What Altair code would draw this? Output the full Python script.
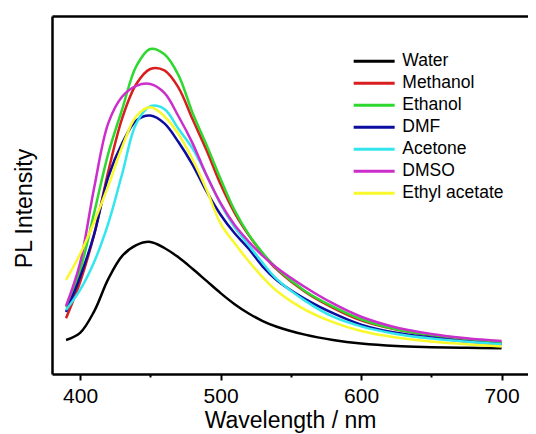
import altair as alt
import pandas as pd

wavelength = [390, 400, 410, 420, 430, 440, 450, 460, 470, 480, 490, 500,
              510, 520, 530, 540, 560, 580, 600, 625, 650, 675, 700]

water = [.095, .115, .175, .265, .33, .36, .369, .352, .326, .294, .26, .226,
         .195, .169, .148, .132, .11, .095, .085, .078, .075, .073, .072]
methanol = [.156, .257, .39, .565, .715, .81, .852, .848, .80, .712, .625, .53,
            .45, .388, .336, .292, .23, .185, .15, .124, .108, .097, .088]
ethanol = [.187, .29, .45, .615, .74, .86, .908, .893, .835, .73, .64, .545,
           .457, .39, .338, .295, .232, .188, .153, .125, .109, .098, .089]
dmf = [.173, .271, .39, .55, .645, .708, .722, .70, .648, .585, .51, .445,
       .393, .35, .30, .262, .21, .17, .138, .115, .102, .091, .083]
acetone = [.179, .235, .313, .42, .56, .70, .748, .74, .685, .63, .555, .475,
           .41, .36, .31, .265, .205, .16, .133, .112, .099, .09, .083]
dmso = [.19, .31, .52, .70, .775, .805, .81, .785, .72, .645, .555, .477,
        .416, .37, .33, .297, .243, .197, .16, .13, .112, .1, .092]
ethyl_acetate = [.263, .335, .425, .525, .635, .72, .745, .72, .67, .60, .515, .42,
                 .365, .315, .27, .232, .18, .145, .12, .102, .091, .083, .077]

solvents = ["Water", "Methanol", "Ethanol", "DMF", "Acetone", "DMSO", "Ethyl acetate"]
series = [water, methanol, ethanol, dmf, acetone, dmso, ethyl_acetate]
colors = ["#000000", "#d81e1e", "#2ed82e", "#0c0ca0", "#33e6ee", "#cc2ecc", "#f8f82a"]

rows = []
for name, vals in zip(solvents, series):
    for w, v in zip(wavelength, vals):
        rows.append({"wl": w, "intensity": v, "solvent": name})
df = pd.DataFrame(rows)

FONT = "Liberation Sans"
xscale = alt.Scale(domain=[380, 718.8], nice=False, zero=False)
yscale = alt.Scale(domain=[0, 1], nice=False, zero=False)

x_axis = alt.Axis(
    orient="bottom",
    values=[400, 450, 500, 550, 600, 650, 700],
    labelExpr="datum.value % 100 === 0 ? datum.label : ''",
    tickSize={"condition": {"test": "datum.value % 100 === 0", "value": 6}, "value": 3},
    tickWidth=2, tickColor="black",
    domainWidth=2.5, domainColor="black",
    labelFontSize=21, labelFont=FONT, labelColor="black", labelPadding=5,
    title="Wavelength / nm", titleFontSize=23, titleFont=FONT,
    titleFontWeight="normal", titleColor="black", titlePadding=3,
    grid=False,
)
y_axis = alt.Axis(
    orient="left", ticks=False, labels=False, grid=False,
    domainWidth=2.5, domainColor="black",
    title="PL Intensity", titleFontSize=23, titleFont=FONT,
    titleFontWeight="normal", titleColor="black",
    titleX=-16, titleY=192,
)
top_axis = alt.Axis(orient="top", ticks=False, labels=False, grid=False,
                    domainWidth=2.5, domainColor="black", title=None)

lines = alt.Chart(df).mark_line(strokeWidth=2.5, interpolate="catmull-rom").encode(
    x=alt.X("wl:Q", scale=xscale, axis=x_axis),
    y=alt.Y("intensity:Q", scale=yscale, axis=y_axis),
    color=alt.Color(
        "solvent:N",
        scale=alt.Scale(domain=solvents, range=colors),
        sort=solvents,
        legend=alt.Legend(
            title=None, orient="none", legendX=313.4, legendY=36.5,
            symbolType="M-4,0H4", symbolSize=105, symbolStrokeWidth=3,
            labelFontSize=17.5, labelFont=FONT, labelColor="black",
            labelOffset=19.4, rowPadding=3.0, padding=0,
        ),
    ),
    detail="solvent:N",
)

frame_top = alt.Chart(df).mark_point(opacity=0).encode(
    x=alt.X("wl:Q", scale=xscale, axis=top_axis),
)

chart = alt.layer(lines, frame_top).resolve_axis(x="independent").properties(
    width=476, height=358,
    padding={"left": 44, "top": 8, "right": 0, "bottom": 60},
    autosize=alt.AutoSizeParams(type="none"),
).configure_view(stroke=None)

chart.save("out.html", embed_options={"renderer": "svg", "actions": False})
